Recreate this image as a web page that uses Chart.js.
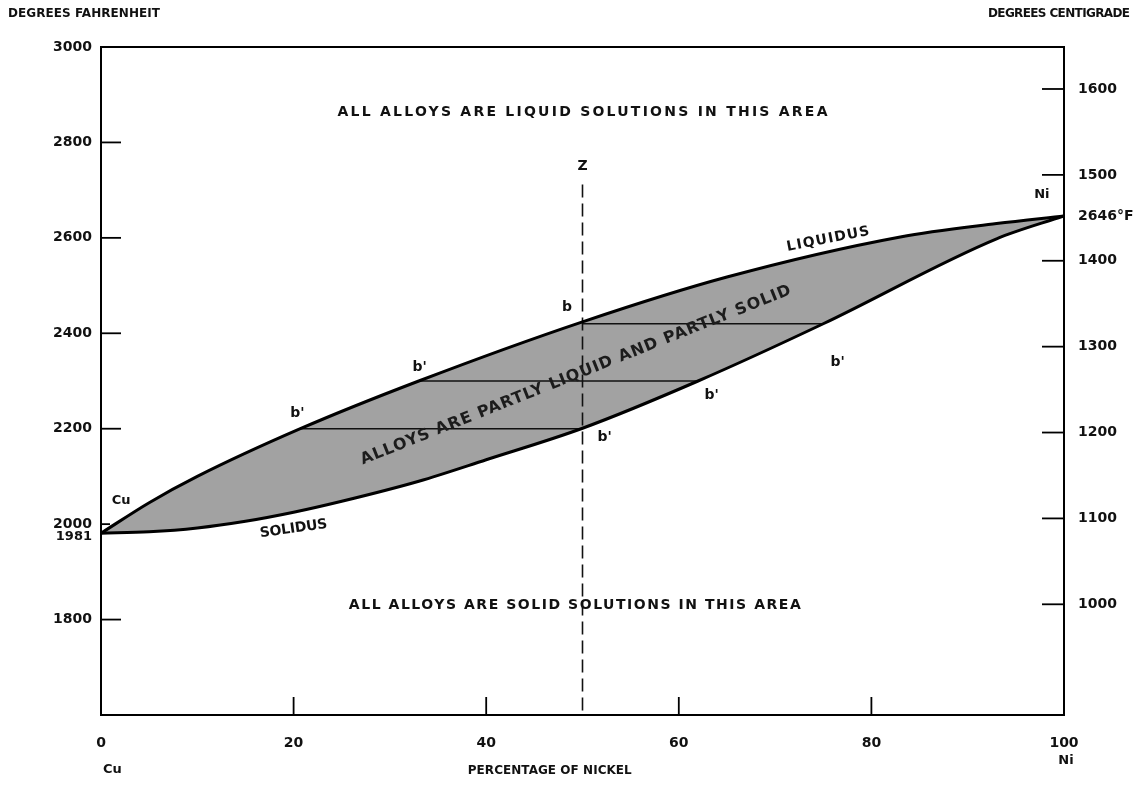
<!DOCTYPE html>
<html>
<head>
<meta charset="utf-8">
<script src="https://cdn.jsdelivr.net/npm/chart.js@4.4.0/dist/chart.umd.min.js"></script>
<style>
  html, body { margin: 0; padding: 0; background: #fff; }
  canvas { display: block; }
</style>
</head>
<body>
<canvas id="chart" width="1136" height="787"></canvas>
<script>
// copper-nickel phase diagram (°F vs % Ni)
const liquidusPct = [0, 5, 10, 20.7, 33, 50, 65, 83, 93, 100];
const liquidusF = [1981, 2045, 2100, 2200, 2300, 2424, 2518, 2602, 2630, 2646];
const solidusPct = [0, 5, 10, 15, 20, 25, 33, 40, 50, 62, 75, 93, 100];
const solidusF = [1981, 1984, 1992, 2006, 2025, 2048, 2090, 2135, 2201, 2300, 2420, 2598, 2646];

// tie lines b' - b'
const tieF = [2200, 2300, 2420];
const tieFromPct = [20.7, 33, 50];
const tieToPct = [50, 62, 75];

// alloy Z
const zPct = 50;
const zTopF = 2712;
const zBottomF = 1600;

// axes
const pctTicks = [0, 20, 40, 60, 80, 100];
const fahrenheitTicks = [1800, 2000, 2200, 2400, 2600, 2800, 3000];
const centigradeTicks = [1000, 1100, 1200, 1300, 1400, 1500, 1600];
const cuMeltF = 1981;
const niMeltF = 2646;
const minF = 1600, maxF = 3000;

function toC(f) { return (f - 32) * 5 / 9; }

const FONT = '"DejaVu Sans", sans-serif';
const INK = '#111';

function pts(xs, ys) {
  return xs.map((x, i) => ({ x: x, y: ys[i] }));
}

function text(ctx, str, x, y, o) {
  o = o || {};
  ctx.save();
  ctx.font = o.font || ('bold 13px ' + FONT);
  ctx.fillStyle = o.color || INK;
  ctx.textBaseline = 'middle';
  ctx.textAlign = 'left';
  ctx.translate(x, y);
  if (o.angle) ctx.rotate(o.angle * Math.PI / 180);
  if (o.width && 'letterSpacing' in ctx) {
    let w = ctx.measureText(str).width;
    ctx.letterSpacing = ((o.width - w) / (str.length - 1)) + 'px';
  }
  let total = o.width || ctx.measureText(str).width;
  let x0 = o.align === 'left' ? 0 : o.align === 'right' ? -total : -total / 2;
  ctx.fillText(str, x0, 0);
  ctx.restore();
}

let datasets = [
  {
    label: 'Liquidus',
    data: pts(liquidusPct, liquidusF),
    borderColor: '#000',
    borderWidth: 3,
    backgroundColor: '#a2a2a2',
    fill: '+1',
    cubicInterpolationMode: 'monotone'
  },
  {
    label: 'Solidus',
    data: pts(solidusPct, solidusF),
    borderColor: '#000',
    borderWidth: 3,
    fill: false,
    cubicInterpolationMode: 'monotone'
  }
];

tieF.forEach((f, i) => {
  datasets.push({
    label: 'tie ' + f,
    data: [{ x: tieFromPct[i], y: f }, { x: tieToPct[i], y: f }],
    borderColor: '#111',
    borderWidth: 1.6,
    fill: false
  });
});

datasets.push({
  label: 'Z',
  data: [{ x: zPct, y: zTopF }, { x: zPct, y: zBottomF }],
  borderColor: '#111',
  borderWidth: 1.6,
  borderDash: [13, 6],
  fill: false
});

// inward tick marks, texts and frame top
const decor = {
  id: 'decor',
  afterDatasetsDraw(chart) {
    let ctx = chart.ctx;
    let a = chart.chartArea;
    let sx = chart.scales.x, sy = chart.scales.y, sc = chart.scales.yC;

    ctx.save();
    ctx.strokeStyle = '#000';
    ctx.lineWidth = 2;
    ctx.beginPath();
    ctx.moveTo(a.left, a.top);
    ctx.lineTo(a.right, a.top);
    ctx.stroke();

    ctx.lineWidth = 1.8;
    fahrenheitTicks.forEach(v => {
      if (v === maxF) return;
      let py = sy.getPixelForValue(v);
      ctx.beginPath();
      ctx.moveTo(a.left, py);
      ctx.lineTo(a.left + (v === 2000 ? 9 : 20), py);
      ctx.stroke();
    });
    centigradeTicks.forEach(v => {
      let py = sc.getPixelForValue(v);
      ctx.beginPath();
      ctx.moveTo(a.right, py);
      ctx.lineTo(a.right - 22, py);
      ctx.stroke();
    });
    pctTicks.forEach(v => {
      if (v === 0 || v === 100) return;
      let px = sx.getPixelForValue(v);
      ctx.beginPath();
      ctx.moveTo(px, a.bottom);
      ctx.lineTo(px, a.bottom - 18);
      ctx.stroke();
    });
    ctx.restore();

    let X = v => sx.getPixelForValue(v);
    let Y = v => sy.getPixelForValue(v);
    let f13 = 'bold 13px ' + FONT;
    let f14 = 'bold 14px ' + FONT;

    text(ctx, 'DEGREES FAHRENHEIT', 8, 14, { font: 'bold 12px ' + FONT, width: 152, align: 'left' });
    text(ctx, 'DEGREES CENTIGRADE', 1130, 14, { font: 'bold 12px ' + FONT, width: 142, align: 'right' });

    text(ctx, 'ALL ALLOYS ARE LIQUID SOLUTIONS IN THIS AREA', X(50), Y(2862), { font: f14, width: 490 });
    text(ctx, 'ALL ALLOYS ARE SOLID SOLUTIONS IN THIS AREA', X(49.2), Y(1830), { font: f14, width: 452 });
    text(ctx, 'ALLOYS ARE PARTLY LIQUID AND PARTLY SOLID', X(49.3), Y(2312), { font: 'bold 16px ' + FONT, width: 462, angle: -21.7, color: '#1c1c1c' });
    text(ctx, 'LIQUIDUS', X(75.5), Y(2597), { font: f14, width: 84, angle: -11 });
    text(ctx, 'SOLIDUS', X(20), Y(1990), { font: f14, width: 68, angle: -8 });

    text(ctx, 'Z', X(zPct), Y(2750), { font: f14 });
    text(ctx, 'Cu', X(2.1), Y(2050), { font: f13 });
    text(ctx, 'Ni', X(97.7), Y(2690), { font: f13 });

    text(ctx, "b'", X(20.4), Y(2233), { font: f14 });
    text(ctx, "b'", X(33.1), Y(2329), { font: f14 });
    text(ctx, 'b', X(48.4), Y(2455), { font: f14 });
    text(ctx, "b'", X(52.3), Y(2182), { font: f14 });
    text(ctx, "b'", X(63.4), Y(2270), { font: f14 });
    text(ctx, "b'", X(76.5), Y(2340), { font: f14 });

    text(ctx, String(cuMeltF), a.left - 9, Y(cuMeltF) + 3, { font: 'bold 13px ' + FONT, align: 'right' });
    text(ctx, 'Cu', X(0) + 2, 770, { font: f13, align: 'left' });
    text(ctx, 'Ni', X(100) + 2, 761, { font: f13, align: 'center' });
    text(ctx, 'PERCENTAGE OF NICKEL', X(46.6), 771, { font: 'bold 12px ' + FONT, width: 164 });
  }
};

let tickFont = { family: FONT, size: 14, weight: 'bold' };

new Chart(document.getElementById('chart'), {
  type: 'scatter',
  data: { datasets: datasets },
  options: {
    responsive: false,
    animation: false,
    showLine: true,
    elements: { point: { radius: 0 } },
    layout: { padding: { top: 47, left: 0, right: 0, bottom: 0 } },
    plugins: {
      legend: { display: false },
      tooltip: { enabled: false },
      filler: { drawTime: 'beforeDatasetsDraw' }
    },
    scales: {
      x: {
        type: 'linear',
        min: 0,
        max: 100,
        afterBuildTicks: s => { s.ticks = pctTicks.map(v => ({ value: v })); },
        afterFit: s => { s.height = 72; },
        grid: { display: false, drawTicks: false },
        border: { display: true, color: '#000', width: 2 },
        ticks: { font: tickFont, color: INK, padding: 20, autoSkip: false, maxRotation: 0, callback: v => String(v) }
      },
      y: {
        type: 'linear',
        position: 'left',
        min: minF,
        max: maxF,
        afterBuildTicks: s => { s.ticks = fahrenheitTicks.map(v => ({ value: v })); },
        afterFit: s => { s.width = 101; },
        grid: { display: false, drawTicks: false },
        border: { display: true, color: '#000', width: 2 },
        ticks: { font: tickFont, color: INK, padding: 9, autoSkip: false, callback: v => String(v) }
      },
      yC: {
        type: 'linear',
        position: 'right',
        min: toC(minF),
        max: toC(maxF),
        afterBuildTicks: s => {
          s.ticks = centigradeTicks.map(v => ({ value: v }));
          s.ticks.push({ value: toC(niMeltF) });
        },
        afterFit: s => { s.width = 72; },
        grid: { display: false, drawTicks: false },
        border: { display: true, color: '#000', width: 2 },
        ticks: {
          font: tickFont,
          color: INK,
          padding: 14,
          autoSkip: false,
          callback: v => Math.abs(v - toC(niMeltF)) < 0.5 ? niMeltF + '°F' : String(v)
        }
      }
    }
  },
  plugins: [decor]
});
</script>
</body>
</html>
